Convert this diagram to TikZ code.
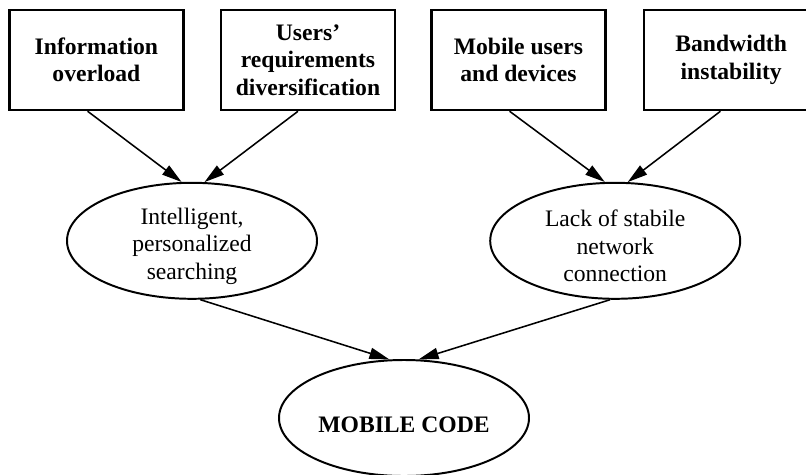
\documentclass[tikz,border=0pt]{standalone}
\usepackage{fontspec}
\setmainfont{Liberation Serif}
\usepackage{tikz}
\usetikzlibrary{shapes.geometric,arrows.meta}

\begin{document}
\begin{tikzpicture}[font=\fontsize{16.8}{19.5}\selectfont,
    cbox/.style={draw,line width=1.8pt,rectangle,minimum width=4.35cm,minimum height=2.5cm,align=center,font=\fontsize{16.8}{19.5}\selectfont\bfseries},
    oval/.style={draw,line width=1.4pt,ellipse,inner xsep=0pt,inner ysep=-8pt,minimum width=6.25cm,minimum height=2.9cm,align=center},
    arr/.style={-{Triangle[length=5mm,width=2.8mm]},line width=1.1pt}]
                      \useasboundingbox (0,0) rectangle (20.15,11.85);
                      \clip (0,0) rectangle (20.15,11.85);

                      \node[cbox] (b1) at (2.41,10.35) {Information\\overload};
                      \node[cbox] (b2) at (7.70,10.35) {Users'\\requirements\\diversification};
                      \node[cbox] (b3) at (12.96,10.35) {Mobile users\\and devices};
                      \node[cbox] (b4) at (18.28,10.35) {Bandwidth\\instability};

                      % the rule in the first line pushes the text a bit below the centre
                      \node[oval] (e1) at (4.80,5.83) {\rule{0pt}{19pt}Intelligent,\\personalized\\searching};
                      \node[oval] (e2) at (15.38,5.83) {\rule{0pt}{19pt}Lack of stabile\\network\\connection};
                      \node[oval,font=\fontsize{16.8}{19.5}\selectfont\bfseries] (mc) at (10.10,1.40) {\rule{0pt}{21pt}MOBILE CODE};

                      \draw[arr] ([xshift=-0.22cm]b1.south) -- (e1.100);
                      \draw[arr] ([xshift=-0.25cm]b2.south) -- (e1.78);
                      \draw[arr] ([xshift=-0.22cm]b3.south) -- (e2.100);
                      \draw[arr] ([xshift=-0.27cm]b4.south) -- (e2.78);
                      \draw[arr] (e1.-82) -- (mc.104);
                      \draw[arr] (e2.-95) -- (mc.76);
                    \end{tikzpicture}
\end{document}
